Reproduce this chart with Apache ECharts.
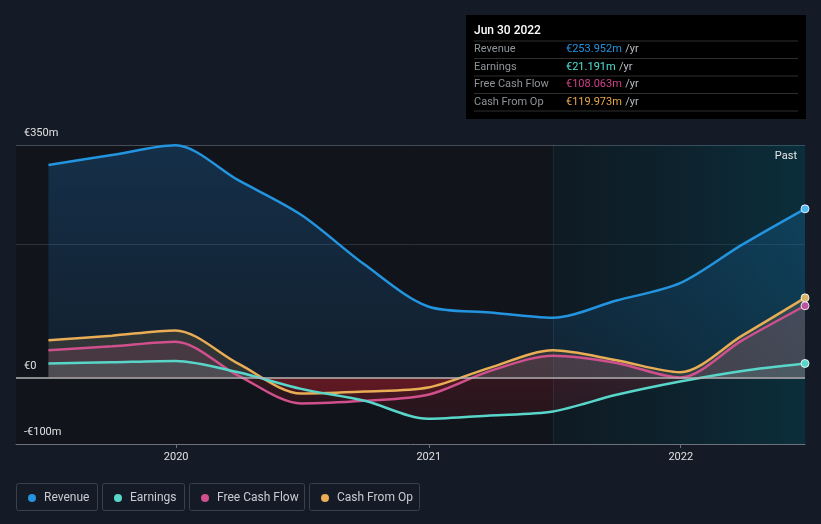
<!DOCTYPE html>
<html>
<head>
<meta charset="utf-8">
<script src="https://cdn.jsdelivr.net/npm/echarts@6/dist/echarts.min.js"></script>
<style>
html,body{margin:0;padding:0;background:#151b26;}
#c{width:821px;height:524px;}
</style>
</head>
<body>
<div id="c"></div>
<script>
const dates = ['2019-06-30','2019-09-30','2019-12-31','2020-03-31','2020-06-30','2020-09-30','2020-12-31','2021-03-31','2021-06-30','2021-09-30','2021-12-31','2022-03-31','2022-06-30'];
const revenue = [320, 335, 349.5, 297, 245, 170, 107, 98, 90, 116, 142, 200, 253.952];
const earnings = [21, 23, 25, 8, -17, -35, -62, -57, -51, -26, -6, 10, 21.191];
const freeCashFlow = [41, 47, 54, 3, -39, -35, -26, 10, 33, 22, 0, 56, 108.063];
const cashFromOp = [56, 63, 71, 21, -24, -21, -15, 15, 41, 26, 8, 63, 119.973];
const yTickLabels = {'350':'€350m','0':'€0','-100':'-€100m'};
const xTickLabels = ['2020','2021','2022'];
const tooltipDate = 'Jun 30 2022';
const pastStart = '2021-06-30';

const FONT = 'Roboto, "Noto Sans", sans-serif';
const C = {rev:'#2394df', earn:'#58d6c9', fcf:'#d0508d', cfo:'#e9ad55'};

const chart = echarts.init(document.getElementById('c'), null, {renderer:'canvas'});
const zeroFrac = 377/524, botFrac = 444/524;

function pair(arr){ return dates.map((d,i)=>[d, arr[i]]); }
function areaGrad(pos){
  return new echarts.graphic.LinearGradient(0,0,0,524,[
    {offset:0,color:pos},{offset:zeroFrac,color:pos},
    {offset:zeroFrac,color:'rgba(175,30,42,0.3)'},{offset:botFrac,color:'rgba(175,30,42,0.13)'},{offset:1,color:'rgba(175,30,42,0.13)'}
  ], true);
}
const last = dates.length-1;
function sym(v,p){ return p.dataIndex===last ? 8 : 0; }
function mk(name, arr, color, area, light){
  return {
    name, type:'line', data:pair(arr), smooth:0.3, symbol:'circle', symbolSize:sym, showAllSymbol:true,
    lineStyle:{color, width:2.5}, itemStyle:{color:light, borderColor:'rgba(255,255,255,0.85)', borderWidth:1},
    areaStyle:{color:area, origin:0}, emphasis:{disabled:true}, clip:false
  };
}

const revSeries = mk('Revenue', revenue, C.rev,
  new echarts.graphic.LinearGradient(0,0,0,1,[{offset:0,color:'rgba(33,150,243,0.3)'},{offset:1,color:'rgba(33,150,243,0.12)'}]), '#4fb8f5');
revSeries.markArea = {silent:true, itemStyle:{color:new echarts.graphic.LinearGradient(0,0,1,0,[{offset:0,color:'rgba(0,70,90,0.12)'},{offset:1,color:'rgba(0,95,120,0.35)'}])},
  data:[[{xAxis:pastStart},{xAxis:dates[last]}]]};
revSeries.markLine = {silent:true, symbol:'none', label:{show:false},
  data:[{yAxis:0, lineStyle:{color:'#b4b4b4', width:1.5, type:'solid'}},
        {xAxis:pastStart, lineStyle:{color:'rgba(120,160,180,0.12)', width:1, type:'solid'}}]};

const series = [
  revSeries,
  mk('Cash From Op', cashFromOp, C.cfo, areaGrad('rgba(233,173,85,0.2)'), '#d8b464'),
  mk('Free Cash Flow', freeCashFlow, C.fcf, areaGrad('rgba(208,80,141,0.2)'), '#b9539f'),
  mk('Earnings', earnings, C.earn, areaGrad('rgba(107,157,153,0.3)'), '#58d6c9')
];

const legendDefs = [
  {name:'Revenue', color:C.rev, box:[16,97], dot:32},
  {name:'Earnings', color:C.earn, box:[102,184], dot:118},
  {name:'Free Cash Flow', color:C.fcf, box:[189,304], dot:205},
  {name:'Cash From Op', color:C.cfo, box:[309,419], dot:325}
];
const legends = legendDefs.map(l=>({
  data:[{name:l.name, itemStyle:{color:l.color, borderWidth:0}}], left:l.dot-4, top:491, padding:0, icon:'circle',
  itemWidth:8, itemHeight:8, selectedMode:false,
  textStyle:{color:'#c8ccd2', fontSize:12, fontFamily:FONT, padding:[0,0,0,3], lineHeight:14}
}));

const rows = [
  {label:'Revenue', color:C.rev, v:revenue[last]},
  {label:'Earnings', color:'#4fe0d0', v:earnings[last]},
  {label:'Free Cash Flow', color:'#d0408a', v:freeCashFlow[last]},
  {label:'Cash From Op', color:'#e8a84c', v:cashFromOp[last]}
];
const rowY = [49.5, 67, 84.5, 102];
const sepY = [41, 58.5, 76, 93.5, 111];
const graphics = [];
legendDefs.forEach(l=>graphics.push({type:'rect', shape:{x:l.box[0]+0.5, y:483.5, width:l.box[1]-l.box[0], height:27, r:2},
  style:{fill:'none', stroke:'#3a414c', lineWidth:1}, silent:true}));
graphics.push({type:'rect', shape:{x:466, y:15, width:340, height:104}, style:{fill:'#000'}, silent:true, z:100});
graphics.push({type:'text', x:474, y:31, style:{text:tooltipDate, fill:'#ffffff', font:'500 12px '+FONT, verticalAlign:'middle'}, z:101});
sepY.forEach(y=>graphics.push({type:'line', shape:{x1:474, y1:y, x2:798, y2:y}, style:{stroke:'#2f2f2f', lineWidth:1}, z:101}));
rows.forEach((r,i)=>{
  graphics.push({type:'text', x:474, y:rowY[i], style:{text:r.label, fill:'#8f949a', font:'11px '+FONT, verticalAlign:'middle'}, z:101});
  graphics.push({type:'text', x:566, y:rowY[i], style:{text:'{v|€'+r.v.toFixed(3)+'m} {u|/yr}', verticalAlign:'middle',
    rich:{v:{fill:r.color, font:'11px '+FONT}, u:{fill:'#b8bcc2', font:'11px '+FONT}}}, z:101});
});
graphics.push({type:'text', x:797, y:156, style:{text:'Past', fill:'#e8e8e8', font:'11px '+FONT, align:'right', verticalAlign:'middle'}, z:50});

const splitColors = [-100,-50,0,50,100,150,200,250,300,350].map(v=> v===350 ? '#474c55' : (v===200 ? '#2b3039' : 'rgba(0,0,0,0)'));

chart.setOption({
  backgroundColor:'#151b26',
  animation:false,
  textStyle:{fontFamily:FONT},
  grid:{left:16, right:16, top:145, bottom:80, show:true, backgroundColor:'#11141b', borderWidth:0},
  legend:legends,
  xAxis:{type:'time', min:'2019-05-14', max:'2022-06-30', splitNumber:3,
    axisLine:{onZero:false, lineStyle:{color:'#6c717a', width:1}},
    axisTick:{show:true, length:4, lineStyle:{color:'#6c717a'}},
    splitLine:{show:false}, minorTick:{show:false},
    axisLabel:{color:'#e0e0e0', fontSize:11, margin:8, fontFamily:FONT,
      formatter:function(v){ const d=new Date(v); const y=String(d.getFullYear()); return (d.getMonth()===0 && d.getDate()===1 && xTickLabels.indexOf(y)>=0) ? y : ''; }}
  },
  yAxis:{type:'value', min:-100, max:350, interval:50,
    axisLine:{show:false}, axisTick:{show:false},
    splitLine:{show:true, lineStyle:{color:splitColors, width:1}},
    axisLabel:{inside:true, margin:8, color:'#e0e0e0', fontSize:11, fontFamily:FONT, verticalAlign:'bottom', padding:[0,0,6,0],
      showMinLabel:true, showMaxLabel:true,
      formatter:function(v){ return yTickLabels[String(v)] || ''; }}
  },
  series:series,
  graphic:graphics
});
</script>
</body>
</html>
